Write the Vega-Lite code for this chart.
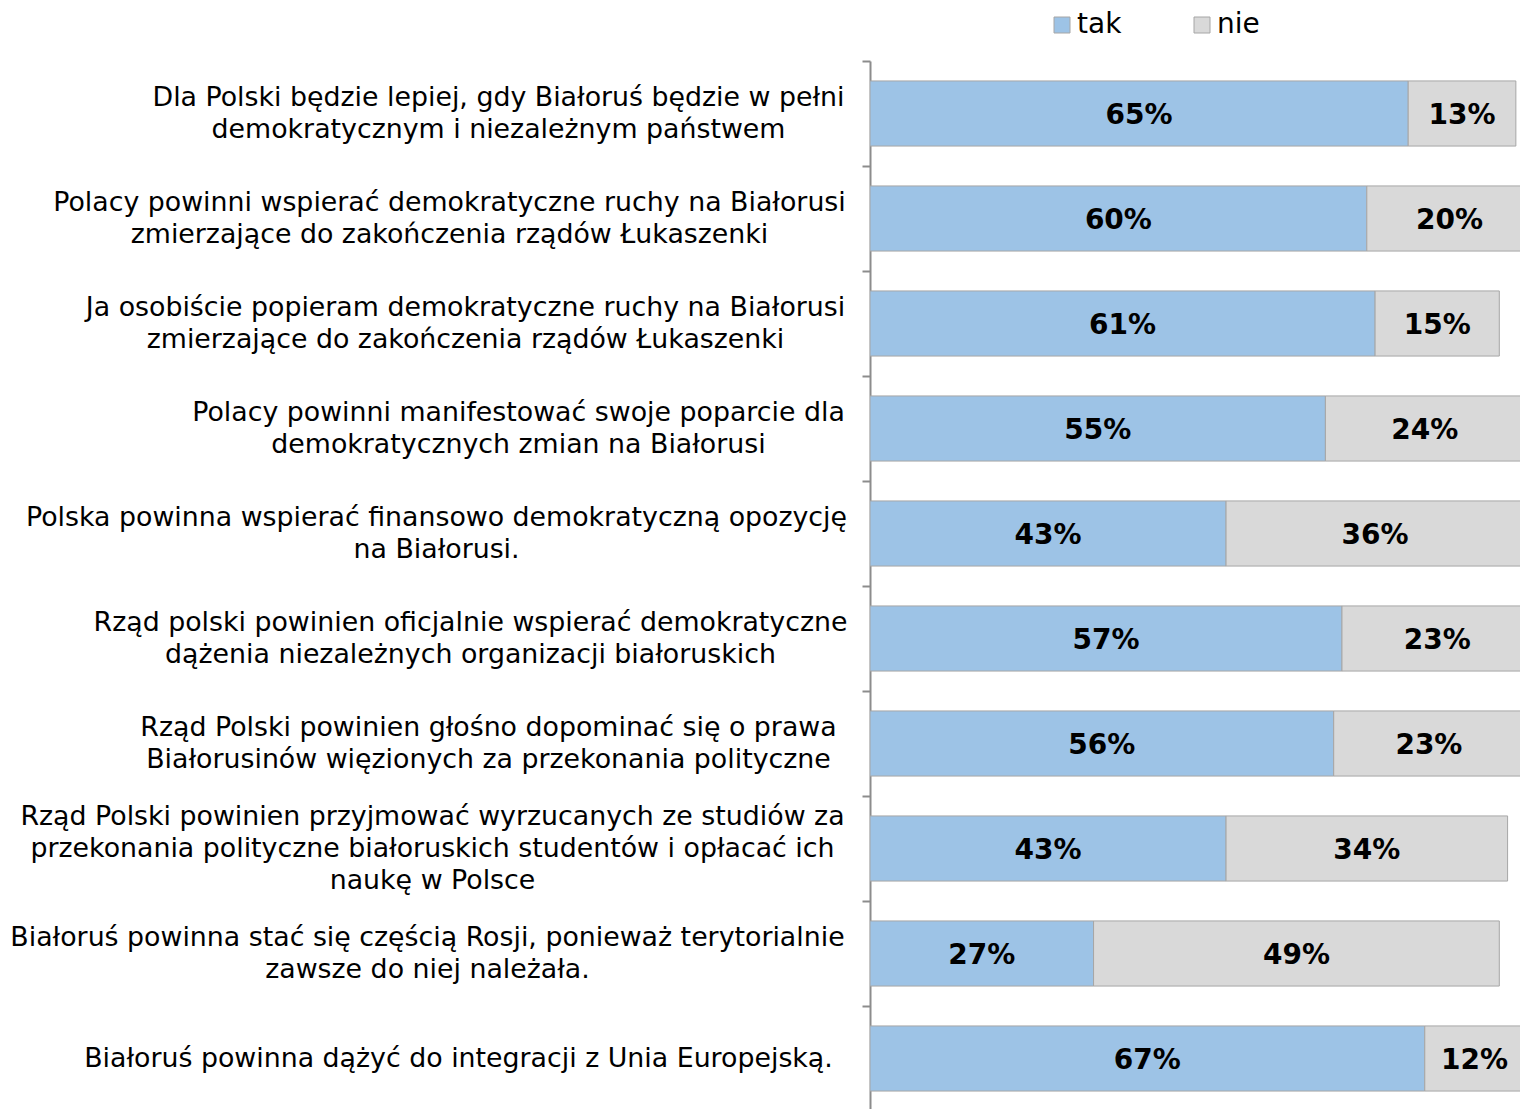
{
  "$schema": "https://vega.github.io/schema/vega-lite/v6.json",
  "autosize": {"type": "none"},
  "width": 650,
  "height": 1050,
  "padding": {"left": 870, "top": 61, "right": 0, "bottom": 0},
  "background": "white",
  "config": {"view": {"stroke": null}},
  "data": {
    "values": [
      {"q": "Dla Polski będzie lepiej, gdy Białoruś będzie w pełni|demokratycznym i niezależnym państwem", "k": "tak", "v": 0.65},
      {"q": "Dla Polski będzie lepiej, gdy Białoruś będzie w pełni|demokratycznym i niezależnym państwem", "k": "nie", "v": 0.13},
      {"q": "Polacy powinni wspierać demokratyczne ruchy na Białorusi|zmierzające do zakończenia rządów Łukaszenki", "k": "tak", "v": 0.60},
      {"q": "Polacy powinni wspierać demokratyczne ruchy na Białorusi|zmierzające do zakończenia rządów Łukaszenki", "k": "nie", "v": 0.20},
      {"q": "Ja osobiście popieram demokratyczne ruchy na Białorusi|zmierzające do zakończenia rządów Łukaszenki", "k": "tak", "v": 0.61},
      {"q": "Ja osobiście popieram demokratyczne ruchy na Białorusi|zmierzające do zakończenia rządów Łukaszenki", "k": "nie", "v": 0.15},
      {"q": "Polacy powinni manifestować swoje poparcie dla|demokratycznych zmian na Białorusi", "k": "tak", "v": 0.55},
      {"q": "Polacy powinni manifestować swoje poparcie dla|demokratycznych zmian na Białorusi", "k": "nie", "v": 0.24},
      {"q": "Polska powinna wspierać finansowo demokratyczną opozycję|na Białorusi.", "k": "tak", "v": 0.43},
      {"q": "Polska powinna wspierać finansowo demokratyczną opozycję|na Białorusi.", "k": "nie", "v": 0.36},
      {"q": "Rząd polski powinien oficjalnie wspierać demokratyczne|dążenia niezależnych organizacji białoruskich", "k": "tak", "v": 0.57},
      {"q": "Rząd polski powinien oficjalnie wspierać demokratyczne|dążenia niezależnych organizacji białoruskich", "k": "nie", "v": 0.23},
      {"q": "Rząd Polski powinien głośno dopominać się o prawa|Białorusinów więzionych za przekonania polityczne", "k": "tak", "v": 0.56},
      {"q": "Rząd Polski powinien głośno dopominać się o prawa|Białorusinów więzionych za przekonania polityczne", "k": "nie", "v": 0.23},
      {"q": "Rząd Polski powinien przyjmować wyrzucanych ze studiów za|przekonania polityczne białoruskich studentów i opłacać ich|naukę w Polsce", "k": "tak", "v": 0.43},
      {"q": "Rząd Polski powinien przyjmować wyrzucanych ze studiów za|przekonania polityczne białoruskich studentów i opłacać ich|naukę w Polsce", "k": "nie", "v": 0.34},
      {"q": "Białoruś powinna stać się częścią Rosji, ponieważ terytorialnie|zawsze do niej należała.", "k": "tak", "v": 0.27},
      {"q": "Białoruś powinna stać się częścią Rosji, ponieważ terytorialnie|zawsze do niej należała.", "k": "nie", "v": 0.49},
      {"q": "Białoruś powinna dążyć do integracji z Unia Europejską.", "k": "tak", "v": 0.67},
      {"q": "Białoruś powinna dążyć do integracji z Unia Europejską.", "k": "nie", "v": 0.12}
    ]
  },
  "transform": [
    {"stack": "v", "groupby": ["q"], "sort": [{"field": "k", "order": "descending"}], "as": ["v0", "v1"]},
    {"calculate": "(datum.v0 + datum.v1) / 2", "as": "mid"}
  ],
  "encoding": {
    "y": {
      "field": "q",
      "type": "nominal",
      "sort": null,
      "scale": {"paddingInner": 0.38, "paddingOuter": 0.19},
      "axis": {
        "title": null,
        "labelExpr": "split(datum.value, '|')",
        "labelFont": "DejaVu Sans",
        "labelFontSize": 26.8,
        "labelColor": "black",
        "labelLineHeight": 32,
        "labelAlign": "center",
        "labelBaseline": "middle",
        "labelLimit": 0,
        "tickOffset": -52.5,
        "labelOffset": {
          "condition": [
            {"test": "length(split(datum.value, '|')) == 3", "value": 20.5},
            {"test": "length(split(datum.value, '|')) == 2", "value": 36.5}
          ],
          "value": 52.5
        },
        "labelPadding": {
          "condition": [
            {"test": "indexof(datum.value, 'Dla Polski') >= 0", "value": 364},
            {"test": "indexof(datum.value, 'Polacy powinni wspiera') >= 0", "value": 413},
            {"test": "indexof(datum.value, 'Ja osobi') >= 0", "value": 397},
            {"test": "indexof(datum.value, 'manifest') >= 0", "value": 344},
            {"test": "indexof(datum.value, 'finansowo') >= 0", "value": 426},
            {"test": "indexof(datum.value, 'oficjalnie') >= 0", "value": 392},
            {"test": "indexof(datum.value, 'dopomina') >= 0", "value": 374},
            {"test": "indexof(datum.value, 'przyjmowa') >= 0", "value": 430},
            {"test": "indexof(datum.value, 'Rosji') >= 0", "value": 435}
          ],
          "value": 404
        },
        "tickSize": 8,
        "tickColor": "#8c8c8c",
        "tickWidth": 2,
        "domainColor": "#8c8c8c",
        "domainWidth": 2
      }
    }
  },
  "layer": [
    {
      "mark": {"type": "bar", "stroke": "#a6a6a6", "strokeWidth": 1, "clip": true},
      "encoding": {
        "x": {"field": "v0", "type": "quantitative", "scale": {"domain": [0, 0.785], "nice": false, "zero": true}, "axis": null},
        "x2": {"field": "v1"},
        "color": {
          "field": "k",
          "type": "nominal",
          "scale": {"domain": ["tak", "nie"], "range": ["#9dc3e6", "#d9d9d9"]},
          "legend": {
            "title": null,
            "orient": "none",
            "legendX": 178,
            "legendY": -50,
            "direction": "horizontal",
            "padding": 0,
            "symbolType": "square",
            "symbolSize": 256,
            "symbolStrokeColor": "#a6a6a6",
            "symbolStrokeWidth": 1,
            "labelFont": "DejaVu Sans",
            "labelFontSize": 28,
            "labelColor": "black",
            "labelOffset": 1,
            "columnPadding": 66
          }
        }
      }
    },
    {
      "mark": {"type": "text", "font": "DejaVu Sans", "fontWeight": "bold", "fontSize": 28, "color": "black", "baseline": "middle", "align": "center", "dy": 2},
      "encoding": {
        "x": {"field": "mid", "type": "quantitative"},
        "text": {"field": "v", "type": "quantitative", "format": ".0%"}
      }
    }
  ]
}
